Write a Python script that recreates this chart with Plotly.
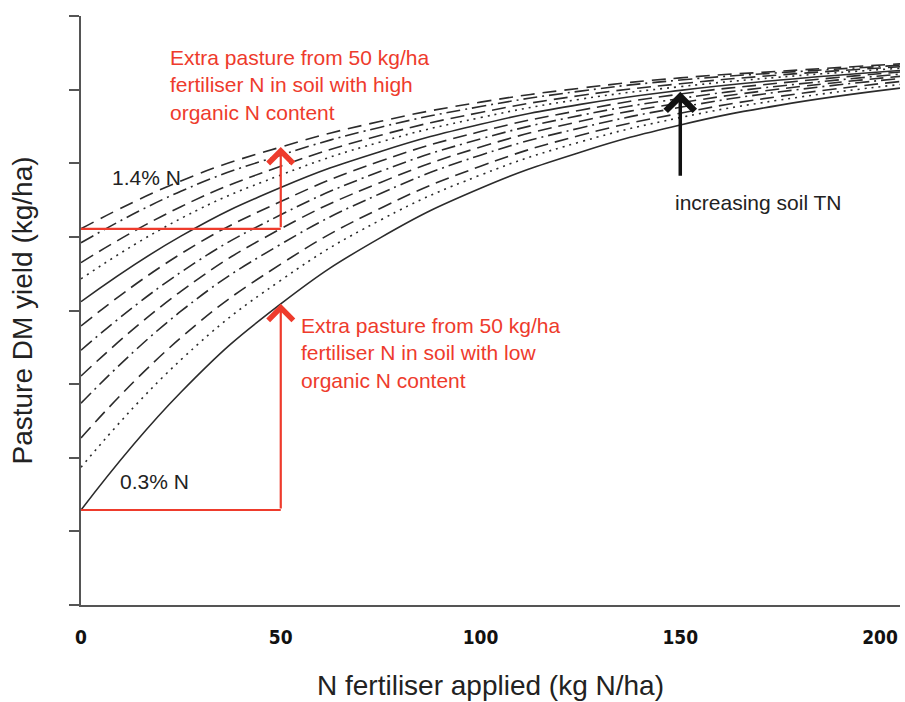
import plotly.graph_objects as go

# N fertiliser applied (kg N/ha) sample points
n_applied = [0, 25, 50, 75, 100, 125, 150, 175, 205]

# Pasture DM yield (axis units) for soils of increasing total N (bottom -> top)
curve_names = ["0.3% N", "c11", "c10", "c9", "c8", "c7", "c6", "c5", "c4", "c3", "c2", "1.4% N"]
yield_03 = [1.29, 2.89, 4.09, 4.99, 5.66, 6.15, 6.52, 6.79, 7.02]
yield_c11 = [1.87, 3.33, 4.41, 5.23, 5.84, 6.29, 6.62, 6.86, 7.07]
yield_c10 = [2.27, 3.63, 4.63, 5.39, 5.96, 6.38, 6.68, 6.91, 7.11]
yield_c9 = [2.74, 3.99, 4.90, 5.59, 6.11, 6.48, 6.76, 6.97, 7.15]
yield_c8 = [3.11, 4.26, 5.11, 5.74, 6.22, 6.57, 6.82, 7.01, 7.18]
yield_c7 = [3.46, 4.52, 5.30, 5.89, 6.33, 6.65, 6.88, 7.05, 7.21]
yield_c6 = [3.79, 4.77, 5.48, 6.03, 6.43, 6.72, 6.94, 7.09, 7.24]
yield_c5 = [4.12, 5.01, 5.67, 6.16, 6.53, 6.80, 6.99, 7.13, 7.26]
yield_c4 = [4.43, 5.25, 5.84, 6.29, 6.62, 6.87, 7.04, 7.17, 7.29]
yield_c3 = [4.65, 5.41, 5.96, 6.38, 6.69, 6.92, 7.08, 7.20, 7.31]
yield_c2 = [4.92, 5.62, 6.11, 6.49, 6.77, 6.98, 7.13, 7.23, 7.33]
yield_14 = [5.11, 5.76, 6.22, 6.57, 6.83, 7.02, 7.16, 7.25, 7.35]

series = [yield_03, yield_c11, yield_c10, yield_c9, yield_c8, yield_c7,
          yield_c6, yield_c5, yield_c4, yield_c3, yield_c2, yield_14]
dashes = ["solid", "2px,5px", "14px,7px", "14px,5px,2px,5px", "14px,7px",
          "14px,5px,2px,5px", "14px,7px", "solid", "2px,5px", "14px,7px",
          "14px,5px,2px,5px", "14px,8px"]

x_ticks = [0, 50, 100, 150, 200]
x_ticktext = ["0", "50", "100", "150", "200"]
y_ticks = [0, 1, 2, 3, 4, 5, 6, 7, 8]

fert_dose = 50
low_base, low_top = yield_03[0], yield_03[2]
high_base, high_top = yield_14[0], yield_14[2]

RED = "#ee3b2c"
FONT = "Liberation Sans, Arial, sans-serif"

fig = go.Figure()
for name, ys, d in zip(curve_names, series, dashes):
    fig.add_trace(go.Scatter(x=n_applied, y=ys, mode="lines", name=name,
                             line=dict(color="#2b2b2b", width=1.6, dash=d,
                                       shape="spline", smoothing=1.3),
                             showlegend=False, hoverinfo="skip"))

# red base lines
for base in (low_base, high_base):
    fig.add_trace(go.Scatter(x=[0, fert_dose], y=[base, base], mode="lines",
                             line=dict(color=RED, width=2.2),
                             showlegend=False, hoverinfo="skip"))

annotations = []
for base, top in ((low_base, low_top), (high_base, high_top)):
    annotations.append(dict(x=fert_dose, y=top, ax=fert_dose, ay=base,
                            xref="x", yref="y", axref="x", ayref="y",
                            text="", showarrow=True, arrowhead=4,
                            arrowsize=2.2, arrowwidth=2.2, arrowcolor=RED))

annotations.append(dict(x=150, y=6.97, ax=150, ay=5.81, xref="x", yref="y",
                        axref="x", ayref="y", text="", showarrow=True,
                        arrowhead=4, arrowsize=1.6, arrowwidth=3.5,
                        arrowcolor="#111111"))

annotations += [
    dict(x=21.8, y=7.62, xref="x", yref="y", xanchor="left", yanchor="top",
         align="left", showarrow=False,
         text="Extra pasture from 50 kg/ha<br>fertiliser N in soil with high<br>organic N content",
         font=dict(family=FONT, size=21, color=RED)),
    dict(x=54.5, y=3.98, xref="x", yref="y", xanchor="left", yanchor="top",
         align="left", showarrow=False,
         text="Extra pasture from 50 kg/ha<br>fertiliser N in soil with low<br>organic N content",
         font=dict(family=FONT, size=21, color=RED)),
    dict(x=7.3, y=5.81, xref="x", yref="y", xanchor="left", yanchor="middle",
         showarrow=False, text="1.4% N",
         font=dict(family=FONT, size=21, color="#222222")),
    dict(x=9.3, y=1.68, xref="x", yref="y", xanchor="left", yanchor="middle",
         showarrow=False, text="0.3% N",
         font=dict(family=FONT, size=21, color="#222222")),
    dict(x=169.5, y=5.47, xref="x", yref="y", xanchor="center", yanchor="middle",
         showarrow=False, text="increasing soil TN",
         font=dict(family=FONT, size=21, color="#222222")),
]

fig.update_layout(
    width=905, height=702,
    margin=dict(l=81, r=5, t=16, b=97),
    paper_bgcolor="white", plot_bgcolor="white",
    annotations=annotations,
    font=dict(family=FONT, color="#222222"),
)
fig.update_xaxes(range=[0, 205], showgrid=False, zeroline=False,
                 showline=True, linecolor="#555555", linewidth=2,
                 tickvals=x_ticks, ticktext=x_ticktext, ticks="",
                 ticklabelstandoff=14, automargin=False,
                 tickfont=dict(family="Liberation Sans Narrow, DejaVu Sans Condensed, sans-serif",
                               size=19, color="#111111", weight="bold"),
                 title=dict(text="N fertiliser applied (kg N/ha)", standoff=29,
                            font=dict(family=FONT, size=28, color="#222222")))
fig.update_yaxes(range=[0, 8], showgrid=False, zeroline=False,
                 showline=True, linecolor="#555555", linewidth=2,
                 tickvals=y_ticks, ticks="outside", ticklen=10, tickwidth=2,
                 tickcolor="#555555", showticklabels=False, automargin=False,
                 title=dict(text="Pasture DM yield (kg/ha)", standoff=28,
                            font=dict(family=FONT, size=28, color="#222222")))

fig.write_html("out.html")
